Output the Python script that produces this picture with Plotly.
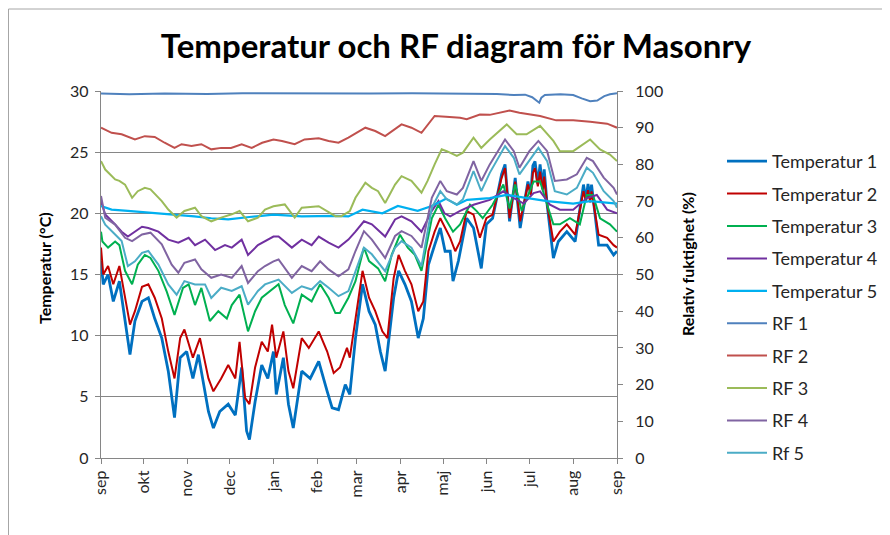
import pandas as pd
import plotly.graph_objects as go

# day offsets from 1 Sep 2010
start = pd.Timestamp("2010-09-01")
end = pd.Timestamp("2011-09-01")

month_ticks = list(pd.date_range(start, end, freq="MS"))
month_labels = ["sep", "okt", "nov", "dec", "jan", "feb", "mar", "apr",
                "maj", "jun", "jul", "aug", "sep"]

# Temperatur 1 (degC)
t1_days = [0, 1.6, 5, 8.7, 13, 17, 20.5, 24, 29, 33.5, 38, 43, 47.6, 52, 56, 60.6,
           65, 68.9, 76, 79.5, 84, 90, 95, 99.5, 103, 105, 109, 113.7, 118, 122,
           124, 129, 132.6, 136, 142, 148, 154, 160, 163.5, 168, 172.8, 176, 180,
           185, 189.6, 194, 197.6, 201, 207, 210.5, 215, 219.6, 224.4, 228, 231.6,
           236, 240, 243.4, 247, 249, 252.8, 258.7, 263.5, 269, 272.6, 277, 283.4,
           285.8, 289, 293, 296.5, 302, 304, 305.5, 307, 309, 310.6, 312.5, 313.5,
           315.6, 320, 323.5, 329.5, 335.4, 341.3, 343, 344.5, 346, 347, 352, 358,
           362.6, 365]
t1 = [16.1, 14.2, 15.0, 12.8, 14.45, 11.4, 8.45, 11.2, 12.8, 13.1, 11.4, 9.8, 7.1,
      3.3, 8.2, 8.7, 6.5, 8.45, 3.8, 2.45, 3.8, 4.4, 3.5, 7.4, 2.2, 1.5, 4.6, 7.6,
      6.5, 8.7, 5.2, 8.2, 4.4, 2.45, 7.1, 6.5, 7.9, 5.45, 4.1, 3.95, 6.0, 5.2, 9.8,
      14.2, 12.0, 10.9, 8.7, 7.1, 13.1, 15.3, 14.2, 12.8, 9.8, 11.4, 15.8, 17.4,
      18.8, 16.9, 16.9, 14.45, 16.1, 19.6, 18.8, 15.5, 19.1, 19.6, 23.2, 24.0,
      19.35, 22.9, 18.8, 22.6, 21.6, 23.9, 24.25, 22.4, 24.0, 22.0, 23.6,
      20.7, 16.35, 17.7, 18.5, 17.7, 22.35, 21.1, 22.4, 21.2, 22.35, 17.4, 17.4,
      16.6, 16.9]

# Temperatur 2
t2_days = [0, 1.6, 5, 8.7, 13, 17, 20.5, 24, 29, 33.5, 38, 43, 47.6, 52, 56, 59,
           65, 70, 76, 79.5, 85, 90, 95, 98, 102, 105, 109, 113.7, 118, 121, 124,
           129, 132.6, 136, 142, 147, 154, 160, 164.6, 169, 174, 176, 180, 185,
           189.6, 194, 199, 202.6, 207, 210.5, 215, 219.6, 224.4, 228, 231.6, 236,
           240, 243.4, 247, 250.6, 254, 258.7, 263.5, 268, 272.6, 277, 283.4, 285.8,
           289, 293, 296.5, 302, 304, 305.5, 307, 309, 310.6, 312.5, 313.5, 315.6,
           320, 324.6, 329.5, 335.4, 341.3, 343, 344.5, 346, 347, 352, 358, 362.6,
           365]
t2 = [17.2, 15.0, 15.7, 14.2, 15.7, 13.1, 10.9, 12.0, 14.0, 14.2, 13.1, 11.4, 8.7,
      6.5, 9.8, 10.5, 8.2, 9.8, 6.5, 5.45, 6.5, 7.6, 6.5, 9.5, 4.9, 4.4, 7.4, 9.5,
      8.7, 10.9, 8.2, 10.35, 7.1, 5.7, 9.8, 9.0, 10.35, 8.7, 6.95, 7.4, 9.0, 8.2,
      11.4, 15.3, 13.1, 12.0, 10.35, 9.8, 14.7, 16.6, 15.3, 14.2, 12.0, 12.8, 16.9,
      18.5, 19.6, 18.8, 18.0, 16.9, 17.7, 20.2, 19.9, 18.0, 19.6, 19.9, 22.9, 23.7,
      19.6, 22.6, 19.35, 22.35, 21.5, 23.3, 23.7, 22.2, 23.4, 21.9, 23.0, 20.7,
      17.7, 18.5, 19.1, 18.25, 21.8, 21.0, 21.9, 20.9, 21.8, 18.25, 18.0, 17.4,
      17.2]

# Temperatur 3
t3_days = [0, 1, 5, 10, 13, 17, 22, 26, 31, 35, 40.6, 46.5, 52, 58, 62, 66.5, 71,
           77, 83, 89, 92.5, 98, 104, 109, 113.7, 119, 125.6, 130, 136, 142, 149,
           155, 161, 165.8, 169, 175, 180, 186, 189.6, 196, 201, 205.6, 211.5, 217,
           222, 226.7, 234, 238.7, 243.4, 249, 254, 261, 265.6, 270, 277, 284.6, 289,
           293, 297.6, 306, 310.6, 315.6, 320, 324.6, 331.7, 338.7, 343.6, 348, 353,
           360, 365]
t3 = [18.5, 17.7, 17.2, 17.7, 17.4, 15.3, 14.2, 15.8, 16.6, 16.35, 15.3, 13.6, 11.7,
      13.9, 14.2, 12.5, 13.9, 11.2, 12.0, 11.4, 12.5, 13.35, 10.35, 12.0, 13.1,
      13.6, 14.2, 12.5, 11.0, 13.35, 12.8, 14.2, 13.1, 11.85, 11.85, 13.1, 14.45,
      17.2, 16.1, 15.5, 14.45, 16.6, 18.25, 17.2, 16.6, 15.3, 19.6, 20.7, 19.6,
      18.5, 19.1, 20.7, 20.2, 19.6, 20.7, 22.35, 20.4, 22.35, 20.2, 22.6, 22.6,
      20.7, 19.1, 19.1, 19.6, 19.1, 21.5, 21.5, 19.6, 19.1, 18.5]

# Temperatur 4
t4_days = [0, 3, 10, 14.6, 19, 24, 29, 33.5, 40.6, 47.6, 54.7, 62, 66.5, 73.6, 80.7,
           87.7, 92.5, 99.5, 104, 111, 118, 122, 125.6, 135, 142, 149, 154, 161, 168,
           175, 180, 186, 191.6, 201, 208, 212.6, 219.6, 226.7, 234, 238.7, 243, 247,
           254, 263.5, 275, 284.6, 292, 299, 306, 310.6, 317.6, 324.6, 334, 343.6,
           350.7, 358, 365]
t4 = [21.0, 19.9, 19.1, 18.5, 18.1, 18.5, 18.9, 18.8, 18.5, 17.85, 17.6, 18.0, 17.4,
      17.85, 17.0, 17.4, 17.2, 17.85, 16.6, 17.4, 17.85, 18.1, 18.1, 17.2, 17.85,
      17.4, 18.1, 17.6, 17.2, 17.85, 18.5, 19.35, 19.1, 18.1, 19.5, 19.75, 19.35,
      18.5, 20.2, 21.0, 20.0, 19.75, 20.2, 20.7, 21.1, 21.8, 21.25, 20.8, 21.65,
      21.8, 20.7, 20.3, 20.3, 21.25, 21.5, 20.3, 20.0]

# Temperatur 5
t5_days = [0, 7.5, 19, 30, 43, 55, 66, 78, 90, 105, 122, 142, 165.8, 175, 185, 199,
           210, 224, 234, 244, 251.7, 259, 275, 287, 301, 315.6, 334, 346, 365]
t5 = [20.6, 20.3, 20.2, 20.1, 19.95, 19.9, 19.75, 19.6, 19.5, 19.7, 19.9, 19.75,
      19.8, 19.75, 20.3, 20.0, 20.6, 20.2, 20.6, 21.2, 20.7, 21.1, 21.25, 21.5,
      21.25, 21.0, 20.8, 21.0, 20.8]

# RF 1 (%)
rf1_days = [0, 20, 45, 75, 100, 130, 160, 190, 220, 250, 280, 292, 300, 305, 308,
            310, 311.5, 314, 325, 334, 340, 346, 351, 356, 360, 365]
rf1 = [99.3, 99.1, 99.3, 99.2, 99.4, 99.3, 99.4, 99.3, 99.4, 99.3, 99.2, 98.9, 99.0,
       98.3, 97.5, 96.8, 98.2, 98.9, 99.1, 98.9, 98.0, 97.2, 97.4, 98.6, 99.1, 99.4]

# RF 2
rf2_days = [0, 7.5, 14.6, 24, 31, 38, 45, 52, 57, 64, 71, 78, 85, 92, 99.5, 106.6,
            114, 122, 128, 137, 144, 154, 161, 168, 175, 187, 194, 201, 212.6, 219.6,
            226.7, 236, 244, 254, 258.7, 268, 275, 289, 296, 310.6, 322, 334, 346,
            358, 365]
rf2 = [90.0, 88.6, 88.2, 86.8, 87.7, 87.5, 85.9, 84.5, 85.5, 85.0, 85.5, 84.1, 84.5,
       84.5, 85.5, 84.5, 85.9, 86.8, 86.4, 85.5, 86.8, 87.1, 86.4, 85.9, 87.3, 90.0,
       89.1, 87.7, 90.9, 90.0, 88.6, 93.2, 93.0, 92.7, 92.3, 93.6, 93.5, 94.7, 94.1,
       93.2, 92.0, 92.0, 91.6, 91.1, 90.0]

# RF 3
rf3_days = [0, 3, 10, 13, 17, 22, 26, 31, 35, 43, 47.6, 53.5, 59, 66.5, 71, 78, 85,
            92.5, 98, 104, 111, 116, 122, 130, 137, 142, 154, 165.8, 170, 176, 180,
            187, 191.6, 196, 201, 208, 212.6, 219.6, 226.7, 231, 236, 241, 244.6,
            251.7, 256, 263.5, 269, 275, 287, 294, 301, 310.6, 320, 324.6, 334, 346,
            353, 360, 365]
rf3 = [80.9, 78.6, 75.9, 75.5, 74.5, 70.9, 72.7, 73.6, 73.2, 70.0, 67.7, 65.5, 67.3,
       68.2, 65.9, 64.5, 65.5, 66.4, 67.3, 64.5, 65.5, 67.7, 68.6, 69.1, 65.5, 68.2,
       68.6, 65.9, 65.9, 67.3, 70.9, 75.0, 73.6, 72.7, 69.5, 74.5, 76.8, 75.5, 72.3,
       75.5, 80.0, 84.1, 83.6, 82.3, 83.2, 87.3, 84.5, 86.8, 90.9, 88.2, 88.2, 90.5,
       86.4, 83.6, 83.6, 86.8, 84.1, 82.7, 80.9]

# RF 4
rf4_days = [0, 3, 10, 17, 22, 29, 35, 43, 50, 54.7, 59, 66.5, 71, 78, 85, 92.5, 99.5,
            104, 111, 116, 122, 125.6, 135, 142, 149, 155, 161, 168, 175, 180, 186,
            191.6, 201, 208, 212.6, 219.6, 226.7, 234, 240, 244.6, 251.7, 256, 263.5,
            269, 275, 285.8, 292, 296, 303, 309.4, 315.6, 321, 329.5, 336.6, 343.6,
            348, 355.6, 362.6, 365]
rf4 = [71.4, 65.5, 63.6, 60.0, 59.1, 60.9, 61.4, 58.2, 52.7, 50.5, 53.2, 54.1, 51.4,
       49.1, 50.0, 49.1, 52.3, 47.7, 50.9, 52.3, 53.6, 54.1, 49.1, 52.3, 50.9, 53.6,
       51.4, 49.5, 51.4, 56.4, 61.8, 59.5, 54.5, 60.5, 61.8, 60.5, 57.3, 70.9, 75.5,
       72.7, 71.8, 73.6, 80.9, 75.5, 80.0, 86.8, 83.6, 79.1, 83.6, 86.4, 83.6, 75.5,
       75.9, 77.3, 81.8, 80.9, 76.4, 73.6, 71.8]

# Rf 5
rf5_days = [0, 3, 10, 14.6, 19, 24, 29, 33.5, 40.6, 47.6, 53.5, 59, 66.5, 73.6, 78,
            85, 92.5, 99.5, 104, 111, 116, 122, 125.6, 135, 142, 149, 155, 161, 168,
            175, 180, 186, 191.6, 201, 208, 212.6, 219.6, 226.7, 234, 240, 244.6,
            251.7, 256, 263.5, 269, 275, 285.8, 292, 296, 303, 309.4, 315.6, 321,
            329.5, 336.6, 343.6, 348, 355.6, 362.6, 365]
rf5 = [65.9, 63.6, 60.9, 59.1, 52.3, 53.6, 55.9, 56.4, 52.7, 47.3, 44.5, 48.2, 47.3,
       47.3, 43.6, 46.4, 45.5, 46.8, 41.8, 45.5, 47.3, 48.2, 48.6, 45.0, 46.8, 45.9,
       48.2, 46.4, 44.1, 45.5, 50.9, 57.3, 55.5, 50.9, 57.3, 59.1, 57.3, 52.3, 68.2,
       72.7, 70.5, 69.1, 70.5, 78.2, 72.7, 77.7, 85.0, 81.8, 77.3, 80.9, 84.5, 80.9,
       72.7, 71.8, 73.6, 79.1, 77.7, 72.7, 70.0, 68.2]


def dates(days):
    return start + pd.to_timedelta(days, unit="D")


series = [
    ("Temperatur 1", t1_days, t1, "#0070C0", 2.8, "y"),
    ("Temperatur 2", t2_days, t2, "#C00000", 2, "y"),
    ("Temperatur 3", t3_days, t3, "#00B050", 2, "y"),
    ("Temperatur 4", t4_days, t4, "#7030A0", 2, "y"),
    ("Temperatur 5", t5_days, t5, "#00B0F0", 2.2, "y"),
    ("RF 1", rf1_days, rf1, "#4F81BD", 2, "y2"),
    ("RF 2", rf2_days, rf2, "#C0504D", 2, "y2"),
    ("RF 3", rf3_days, rf3, "#9BBB59", 2, "y2"),
    ("RF 4", rf4_days, rf4, "#8064A2", 2, "y2"),
    ("Rf 5", rf5_days, rf5, "#4BACC6", 2, "y2"),
]

fig = go.Figure()
for name, d, v, col, w, ax in series:
    fig.add_trace(go.Scatter(x=dates(d), y=v, mode="lines", name=name,
                             line=dict(color=col, width=w), yaxis=ax,
                             legendgroup=name))

# the page body adds an 8px margin, so figure pixels = page pixels - 8
OFF = 8
L, T, W, H = 101 - OFF, 91 - OFF, 516, 367


def px(x):
    return (x - OFF - L) / W


def py(y):
    return (T + H - (y - OFF)) / H


grey = "#868686"
fig.update_layout(
    width=890, height=535,
    margin=dict(l=L, r=890 - L - W, t=T, b=535 - T - H),
    paper_bgcolor="white", plot_bgcolor="white",
    font=dict(family="Lato", size=16, color="#262626"),
    title=dict(text="<b>Temperatur och RF diagram för Masonry</b>",
               font=dict(size=33, color="black"),
               x=(456 - OFF) / 890, xanchor="center", xref="container",
               y=1 - (46 - OFF) / 535, yanchor="middle", yref="container"),
    xaxis=dict(range=[start, end], tickvals=month_ticks, ticktext=month_labels,
               tickangle=-90, ticks="outside", ticklen=5, tickcolor=grey,
               showline=True, linecolor=grey, linewidth=1.3,
               showgrid=False, zeroline=False),
    yaxis=dict(range=[0, 30], dtick=5, ticks="outside", ticklen=5, tickcolor=grey,
               ticklabelstandoff=3,
               showline=True, linecolor=grey, linewidth=1.3,
               showgrid=True, gridcolor=grey, gridwidth=1.3, zeroline=False),
    yaxis2=dict(range=[0, 100], dtick=10, overlaying="y", side="right",
                ticks="outside", ticklen=5, tickcolor=grey, ticklabelstandoff=9,
                showline=True, linecolor=grey, linewidth=1.3,
                showgrid=False, zeroline=False),
    legend=dict(x=px(722), xanchor="left",
                y=py(143), yanchor="top", itemwidth=40,
                tracegroupgap=6, font=dict(size=18),
                bgcolor="rgba(0,0,0,0)"),
    annotations=[
        dict(text="<b>Temperatur (°C)</b>", textangle=-90, showarrow=False,
             xref="paper", yref="paper", x=px(44), y=py(268),
             xanchor="center", yanchor="middle", font=dict(size=16, color="black")),
        dict(text="<b>Relativ fuktighet (%)</b>", textangle=-90, showarrow=False,
             xref="paper", yref="paper", x=px(687), y=py(264),
             xanchor="center", yanchor="middle", font=dict(size=16, color="black")),
    ],
    shapes=[
        dict(type="line", xref="paper", yref="paper",
             x0=px(8.5), x1=px(900), y0=py(9), y1=py(9),
             line=dict(color="#a6a6a6", width=1)),
        dict(type="line", xref="paper", yref="paper",
             x0=px(8.5), x1=px(8.5), y0=py(9), y1=py(545),
             line=dict(color="#a6a6a6", width=1)),
    ],
)

fig.write_html("out.html")
